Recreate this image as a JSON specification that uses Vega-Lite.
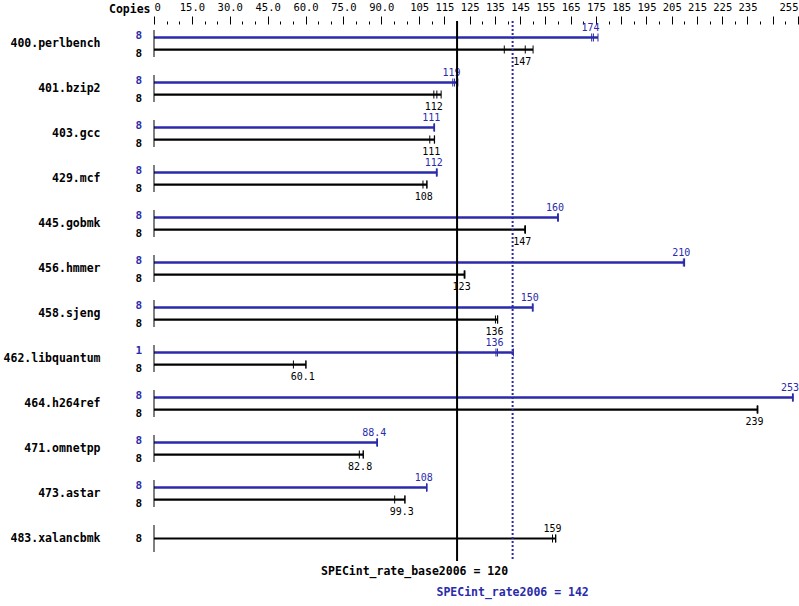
{
  "$schema": "https://vega.github.io/schema/vega-lite/v6.json",
  "width": 644,
  "height": 540,
  "autosize": "none",
  "padding": {"left": 154, "top": 21, "right": 1, "bottom": 45},
  "background": "white",
  "config": {"view": {"stroke": null}, "font": "DejaVu Sans Mono", "tick": {"opacity": 1}},
  "resolve": {"axis": {"x": "independent", "y": "independent"}},
  "datasets": {
    "benches": [
      {"bench": "400.perlbench"}, {"bench": "401.bzip2"}, {"bench": "403.gcc"}, {"bench": "429.mcf"},
      {"bench": "445.gobmk"}, {"bench": "456.hmmer"}, {"bench": "458.sjeng"}, {"bench": "462.libquantum"},
      {"bench": "464.h264ref"}, {"bench": "471.omnetpp"}, {"bench": "473.astar"}, {"bench": "483.xalancbmk"}
    ],
    "runs": [
      {"bench": "400.perlbench", "tuning": "peak", "row": "peak", "copies": 8, "value": 173.3},
      {"bench": "400.perlbench", "tuning": "peak", "row": "peak", "copies": 8, "value": 174},
      {"bench": "400.perlbench", "tuning": "peak", "row": "peak", "copies": 8, "value": 175.8},
      {"bench": "400.perlbench", "tuning": "base", "row": "base", "copies": 8, "value": 138.7},
      {"bench": "400.perlbench", "tuning": "base", "row": "base", "copies": 8, "value": 147},
      {"bench": "400.perlbench", "tuning": "base", "row": "base", "copies": 8, "value": 150.1},
      {"bench": "401.bzip2", "tuning": "peak", "row": "peak", "copies": 8, "value": 118.3},
      {"bench": "401.bzip2", "tuning": "peak", "row": "peak", "copies": 8, "value": 119},
      {"bench": "401.bzip2", "tuning": "peak", "row": "peak", "copies": 8, "value": 120.3},
      {"bench": "401.bzip2", "tuning": "base", "row": "base", "copies": 8, "value": 110.8},
      {"bench": "401.bzip2", "tuning": "base", "row": "base", "copies": 8, "value": 112},
      {"bench": "401.bzip2", "tuning": "base", "row": "base", "copies": 8, "value": 113.7},
      {"bench": "403.gcc", "tuning": "peak", "row": "peak", "copies": 8, "value": 110.8},
      {"bench": "403.gcc", "tuning": "peak", "row": "peak", "copies": 8, "value": 111},
      {"bench": "403.gcc", "tuning": "peak", "row": "peak", "copies": 8, "value": 111.1},
      {"bench": "403.gcc", "tuning": "base", "row": "base", "copies": 8, "value": 109.2},
      {"bench": "403.gcc", "tuning": "base", "row": "base", "copies": 8, "value": 111},
      {"bench": "403.gcc", "tuning": "base", "row": "base", "copies": 8, "value": 111.1},
      {"bench": "429.mcf", "tuning": "peak", "row": "peak", "copies": 8, "value": 111.8},
      {"bench": "429.mcf", "tuning": "peak", "row": "peak", "copies": 8, "value": 112},
      {"bench": "429.mcf", "tuning": "peak", "row": "peak", "copies": 8, "value": 112.1},
      {"bench": "429.mcf", "tuning": "base", "row": "base", "copies": 8, "value": 106.5},
      {"bench": "429.mcf", "tuning": "base", "row": "base", "copies": 8, "value": 108},
      {"bench": "429.mcf", "tuning": "base", "row": "base", "copies": 8, "value": 108.1},
      {"bench": "445.gobmk", "tuning": "peak", "row": "peak", "copies": 8, "value": 159.8},
      {"bench": "445.gobmk", "tuning": "peak", "row": "peak", "copies": 8, "value": 160},
      {"bench": "445.gobmk", "tuning": "peak", "row": "peak", "copies": 8, "value": 160.1},
      {"bench": "445.gobmk", "tuning": "base", "row": "base", "copies": 8, "value": 146.8},
      {"bench": "445.gobmk", "tuning": "base", "row": "base", "copies": 8, "value": 147},
      {"bench": "445.gobmk", "tuning": "base", "row": "base", "copies": 8, "value": 147.1},
      {"bench": "456.hmmer", "tuning": "peak", "row": "peak", "copies": 8, "value": 209.6},
      {"bench": "456.hmmer", "tuning": "peak", "row": "peak", "copies": 8, "value": 210},
      {"bench": "456.hmmer", "tuning": "peak", "row": "peak", "copies": 8, "value": 210.1},
      {"bench": "456.hmmer", "tuning": "base", "row": "base", "copies": 8, "value": 122.8},
      {"bench": "456.hmmer", "tuning": "base", "row": "base", "copies": 8, "value": 123},
      {"bench": "456.hmmer", "tuning": "base", "row": "base", "copies": 8, "value": 123.1},
      {"bench": "458.sjeng", "tuning": "peak", "row": "peak", "copies": 8, "value": 149.8},
      {"bench": "458.sjeng", "tuning": "peak", "row": "peak", "copies": 8, "value": 150},
      {"bench": "458.sjeng", "tuning": "peak", "row": "peak", "copies": 8, "value": 150.1},
      {"bench": "458.sjeng", "tuning": "base", "row": "base", "copies": 8, "value": 135.2},
      {"bench": "458.sjeng", "tuning": "base", "row": "base", "copies": 8, "value": 136},
      {"bench": "458.sjeng", "tuning": "base", "row": "base", "copies": 8, "value": 136.1},
      {"bench": "462.libquantum", "tuning": "peak", "row": "peak", "copies": 1, "value": 135.4},
      {"bench": "462.libquantum", "tuning": "peak", "row": "peak", "copies": 1, "value": 136},
      {"bench": "462.libquantum", "tuning": "peak", "row": "peak", "copies": 1, "value": 142.3},
      {"bench": "462.libquantum", "tuning": "base", "row": "base", "copies": 8, "value": 55.2},
      {"bench": "462.libquantum", "tuning": "base", "row": "base", "copies": 8, "value": 60.1},
      {"bench": "462.libquantum", "tuning": "base", "row": "base", "copies": 8, "value": 60.2},
      {"bench": "464.h264ref", "tuning": "peak", "row": "peak", "copies": 8, "value": 252.8},
      {"bench": "464.h264ref", "tuning": "peak", "row": "peak", "copies": 8, "value": 253},
      {"bench": "464.h264ref", "tuning": "peak", "row": "peak", "copies": 8, "value": 253.1},
      {"bench": "464.h264ref", "tuning": "base", "row": "base", "copies": 8, "value": 238.8},
      {"bench": "464.h264ref", "tuning": "base", "row": "base", "copies": 8, "value": 239},
      {"bench": "464.h264ref", "tuning": "base", "row": "base", "copies": 8, "value": 239.1},
      {"bench": "471.omnetpp", "tuning": "peak", "row": "peak", "copies": 8, "value": 88.2},
      {"bench": "471.omnetpp", "tuning": "peak", "row": "peak", "copies": 8, "value": 88.4},
      {"bench": "471.omnetpp", "tuning": "peak", "row": "peak", "copies": 8, "value": 88.5},
      {"bench": "471.omnetpp", "tuning": "base", "row": "base", "copies": 8, "value": 81.3},
      {"bench": "471.omnetpp", "tuning": "base", "row": "base", "copies": 8, "value": 82.8},
      {"bench": "471.omnetpp", "tuning": "base", "row": "base", "copies": 8, "value": 82.9},
      {"bench": "473.astar", "tuning": "peak", "row": "peak", "copies": 8, "value": 107.9},
      {"bench": "473.astar", "tuning": "peak", "row": "peak", "copies": 8, "value": 108},
      {"bench": "473.astar", "tuning": "peak", "row": "peak", "copies": 8, "value": 108.1},
      {"bench": "473.astar", "tuning": "base", "row": "base", "copies": 8, "value": 95.3},
      {"bench": "473.astar", "tuning": "base", "row": "base", "copies": 8, "value": 99.3},
      {"bench": "473.astar", "tuning": "base", "row": "base", "copies": 8, "value": 99.4},
      {"bench": "483.xalancbmk", "tuning": "base", "row": "base only", "copies": 8, "value": 157.8},
      {"bench": "483.xalancbmk", "tuning": "base", "row": "base only", "copies": 8, "value": 159},
      {"bench": "483.xalancbmk", "tuning": "base", "row": "base only", "copies": 8, "value": 159.1}
    ],
    "summary": [
      {"metric": "base", "label": "SPECint_rate_base2006 = 120", "value": 120},
      {"metric": "peak", "label": "SPECint_rate2006 = 142", "value": 142}
    ]
  },
  "layer": [
    {
      "data": {"name": "runs"},
      "mark": {"type": "rule"},
      "encoding": {
        "x": {
          "aggregate": "max", "field": "value", "type": "quantitative",
          "scale": {"domain": [0, 255], "nice": false, "zero": true},
          "axis": {
            "orient": "top", "title": null, "grid": false, "domain": false,
            "values": [0,5,10,15,20,25,30,35,40,45,50,55,60,65,70,75,80,85,90,95,100,105,110,115,120,125,130,135,140,145,150,155,160,165,170,175,180,185,190,195,200,205,210,215,220,225,230,235,240,245,250,255],
            "labelExpr": "datum.value == 0 ? '0' : datum.value == 245 ? '' : datum.value < 105 ? (datum.value % 15 == 0 ? format(datum.value, '.1f') : '') : (datum.value % 10 == 5 ? format(datum.value, 'd') : '')",
            "labelOverlap": false, "labelFlush": true,
            "labelFont": "DejaVu Sans Mono", "labelFontSize": 10.5, "labelColor": "black",
            "labelPadding": 4,
            "tickColor": "black", "tickWidth": 1,
            "tickSize": {"condition": {"test": "(datum.value < 105 ? (datum.value % 15 == 0) : (datum.value % 10 == 5))", "value": 8}, "value": 3},
            "offset": -3
          }
        },
        "x2": {"datum": 0},
        "y": {
          "field": "bench", "type": "nominal",
          "scale": {"domain": ["400.perlbench","401.bzip2","403.gcc","429.mcf","445.gobmk","456.hmmer","458.sjeng","462.libquantum","464.h264ref","471.omnetpp","473.astar","483.xalancbmk"], "paddingInner": 0, "paddingOuter": 0},
          "axis": {
            "orient": "left", "domain": false, "ticks": false, "tickSize": 0, "labelPadding": 54,
            "labelFont": "DejaVu Sans Mono", "labelFontWeight": "bold", "labelFontSize": 11.5, "labelColor": "black",
            "title": "Copies", "titleAngle": 0, "titleAlign": "right", "titleBaseline": "middle",
            "titleX": -4, "titleY": -12, "titleFont": "DejaVu Sans Mono", "titleFontSize": 11.5, "titleFontWeight": "bold", "titleColor": "black"
          }
        },
        "yOffset": {"field": "row", "type": "nominal", "scale": {"type": "point", "domain": ["peak", "base only", "base"], "range": [16.5, 28.5], "padding": 0}},
        "color": {"field": "tuning", "type": "nominal", "scale": {"domain": ["peak", "base"], "range": ["#2a2aaa", "#000000"]}, "legend": null},
        "strokeWidth": {"field": "row", "type": "nominal", "scale": {"domain": ["peak", "base", "base only"], "range": [2.5, 2, 4]}, "legend": null}
      }
    },
    {
      "data": {"name": "benches"},
      "mark": {"type": "tick", "size": 27, "thickness": 1, "color": "black", "opacity": 1},
      "encoding": {
        "x": {"datum": 0, "type": "quantitative", "axis": null},
        "y": {"field": "bench", "type": "nominal", "axis": null}
      }
    },
    {
      "data": {"name": "runs"},
      "mark": {"type": "tick", "size": 8, "thickness": 1, "opacity": 1},
      "encoding": {
        "x": {"field": "value", "type": "quantitative", "axis": null},
        "y": {"field": "bench", "type": "nominal", "axis": null},
        "yOffset": {"field": "row", "type": "nominal"},
        "color": {"field": "tuning", "type": "nominal", "legend": null}
      }
    },
    {
      "data": {"name": "runs"},
      "transform": [{"filter": "datum.row != 'base'"}],
      "mark": {"type": "text", "font": "DejaVu Sans Mono", "fontSize": 10, "dy": -10, "dx": -3, "baseline": "middle"},
      "encoding": {
        "x": {"aggregate": "median", "field": "value", "type": "quantitative", "axis": null},
        "text": {"aggregate": "median", "field": "value", "type": "quantitative", "format": ".3r"},
        "y": {"field": "bench", "type": "nominal", "axis": null},
        "yOffset": {"field": "row", "type": "nominal"},
        "color": {"field": "tuning", "type": "nominal", "legend": null}
      }
    },
    {
      "data": {"name": "runs"},
      "transform": [{"filter": "datum.row == 'base'"}],
      "mark": {"type": "text", "font": "DejaVu Sans Mono", "fontSize": 10, "dy": 12, "dx": -3, "baseline": "middle"},
      "encoding": {
        "x": {"aggregate": "median", "field": "value", "type": "quantitative", "axis": null},
        "text": {"aggregate": "median", "field": "value", "type": "quantitative", "format": ".3r"},
        "y": {"field": "bench", "type": "nominal", "axis": null},
        "yOffset": {"field": "row", "type": "nominal"},
        "color": {"field": "tuning", "type": "nominal", "legend": null}
      }
    },
    {
      "data": {"name": "runs"},
      "transform": [{"filter": "datum.row == 'peak'"}],
      "mark": {"type": "text", "font": "DejaVu Sans Mono", "fontSize": 11, "fontWeight": "bold", "align": "right", "dx": -12, "dy": -2, "baseline": "middle"},
      "encoding": {
        "x": {"datum": 0, "type": "quantitative", "axis": null},
        "text": {"aggregate": "max", "field": "copies", "type": "quantitative"},
        "y": {"field": "bench", "type": "nominal", "axis": null},
        "yOffset": {"field": "row", "type": "nominal"},
        "color": {"field": "tuning", "type": "nominal", "legend": null}
      }
    },
    {
      "data": {"name": "runs"},
      "transform": [{"filter": "datum.row == 'base'"}],
      "mark": {"type": "text", "font": "DejaVu Sans Mono", "fontSize": 11, "fontWeight": "bold", "align": "right", "dx": -12, "dy": 4, "baseline": "middle"},
      "encoding": {
        "x": {"datum": 0, "type": "quantitative", "axis": null},
        "text": {"aggregate": "max", "field": "copies", "type": "quantitative"},
        "y": {"field": "bench", "type": "nominal", "axis": null},
        "yOffset": {"field": "row", "type": "nominal"},
        "color": {"field": "tuning", "type": "nominal", "legend": null}
      }
    },
    {
      "data": {"name": "runs"},
      "transform": [{"filter": "datum.row == 'base only'"}],
      "mark": {"type": "text", "font": "DejaVu Sans Mono", "fontSize": 11, "fontWeight": "bold", "align": "right", "dx": -12, "baseline": "middle"},
      "encoding": {
        "x": {"datum": 0, "type": "quantitative", "axis": null},
        "text": {"aggregate": "max", "field": "copies", "type": "quantitative"},
        "y": {"field": "bench", "type": "nominal", "axis": null},
        "yOffset": {"field": "row", "type": "nominal"},
        "color": {"field": "tuning", "type": "nominal", "legend": null}
      }
    },
    {
      "data": {"name": "summary"},
      "transform": [{"filter": "datum.metric == 'base'"}],
      "mark": {"type": "rule", "strokeWidth": 2, "color": "black"},
      "encoding": {"x": {"field": "value", "type": "quantitative", "axis": null}}
    },
    {
      "data": {"name": "summary"},
      "transform": [{"filter": "datum.metric == 'peak'"}],
      "mark": {"type": "rule", "strokeWidth": 2, "strokeDash": [2, 2], "color": "#2a2aaa", "y2Offset": 24},
      "encoding": {"x": {"field": "value", "type": "quantitative", "axis": null}}
    },
    {
      "data": {"name": "summary"},
      "transform": [{"filter": "datum.metric == 'base'"}],
      "mark": {"type": "text", "font": "DejaVu Sans Mono", "fontSize": 11.5, "fontWeight": "bold", "align": "right", "dx": 51, "dy": 33.5, "baseline": "middle", "color": "black"},
      "encoding": {
        "x": {"field": "value", "type": "quantitative", "axis": null},
        "y": {"datum": "483.xalancbmk", "type": "nominal", "axis": null},
        "text": {"field": "label", "type": "nominal"}
      }
    },
    {
      "data": {"name": "summary"},
      "transform": [{"filter": "datum.metric == 'peak'"}],
      "mark": {"type": "text", "font": "DejaVu Sans Mono", "fontSize": 11.5, "fontWeight": "bold", "align": "center", "dy": 54.5, "baseline": "middle", "color": "#2a2aaa"},
      "encoding": {
        "x": {"field": "value", "type": "quantitative", "axis": null},
        "y": {"datum": "483.xalancbmk", "type": "nominal", "axis": null},
        "text": {"field": "label", "type": "nominal"}
      }
    }
  ]
}
